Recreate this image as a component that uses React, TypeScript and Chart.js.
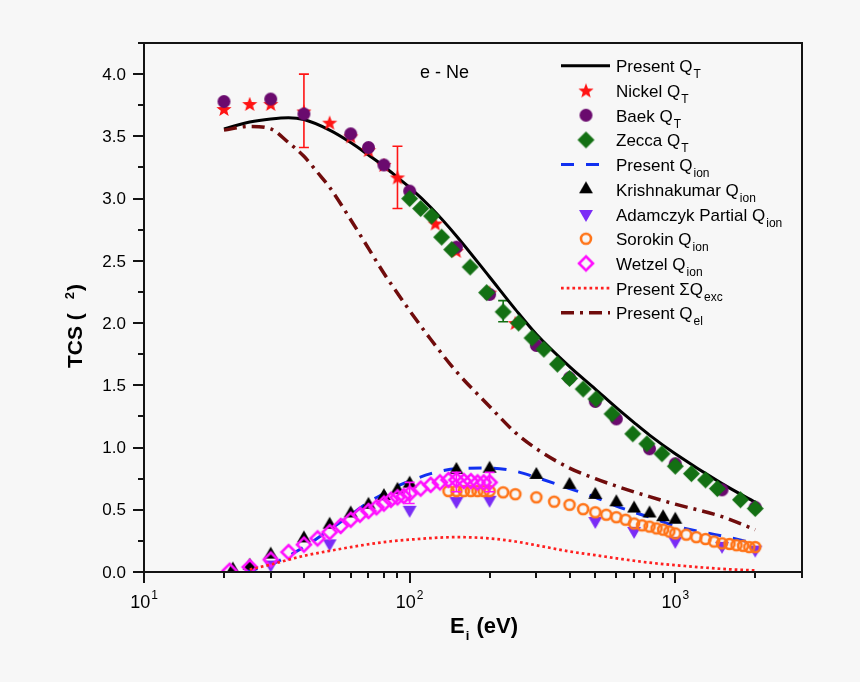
import { useEffect, useRef } from "react";
import { Chart, registerables } from "chart.js";

Chart.register(...registerables);

// ---------------- data (energy in eV, cross section in Å²) ----------------
const presentQtE = [20, 25, 30, 35, 40, 50, 60, 70, 80, 90, 100, 120, 150, 200, 250, 300, 400, 500, 600, 700, 800, 1000, 1500, 2000];
const presentQtV = [3.56, 3.615, 3.64, 3.65, 3.635, 3.55, 3.45, 3.35, 3.26, 3.17, 3.09, 2.93, 2.7, 2.37, 2.11, 1.91, 1.65, 1.47, 1.32, 1.2, 1.1, 0.95, 0.71, 0.56];

const nickelE = [20, 25, 30, 40, 50, 60, 70, 80, 90, 125, 150, 200, 250];
const nickelV = [3.72, 3.76, 3.76, 3.70, 3.61, 3.50, 3.39, 3.27, 3.17, 2.80, 2.58, 2.245, 2.0];

const baekE = [20, 30, 40, 60, 70, 80, 100, 150, 200, 300, 400, 500, 600, 800, 1000, 1500, 2000];
const baekV = [3.78, 3.80, 3.68, 3.52, 3.41, 3.27, 3.06, 2.61, 2.23, 1.82, 1.56, 1.37, 1.23, 0.99, 0.87, 0.66, 0.52];

const zeccaE = [100, 110, 121, 132, 144, 169, 195, 225, 257, 289, 320, 360, 400, 450, 503, 578, 692, 782, 891, 1000, 1150, 1300, 1440, 1760, 2000];
const zeccaV = [3.0, 2.92, 2.86, 2.69, 2.59, 2.45, 2.245, 2.09, 2.0, 1.88, 1.79, 1.67, 1.555, 1.47, 1.39, 1.27, 1.11, 1.03, 0.95, 0.85, 0.79, 0.74, 0.67, 0.58, 0.51];

const presentQionE = [24, 25, 30, 35, 40, 50, 60, 70, 80, 90, 100, 120, 150, 200, 250, 300, 400, 500, 600, 700, 800, 1000, 1500, 2000];
const presentQionV = [0.0, 0.01, 0.06, 0.13, 0.2, 0.34, 0.46, 0.56, 0.63, 0.69, 0.73, 0.79, 0.83, 0.835, 0.81, 0.76, 0.67, 0.6, 0.53, 0.48, 0.44, 0.37, 0.29, 0.23];

const krishnakumarE = [21.6, 25, 30, 40, 50, 60, 70, 80, 90, 100, 150, 200, 300, 400, 500, 600, 700, 800, 900, 1000];
const krishnakumarV = [0.02, 0.05, 0.14, 0.27, 0.38, 0.47, 0.54, 0.61, 0.66, 0.71, 0.82, 0.83, 0.78, 0.7, 0.62, 0.56, 0.51, 0.47, 0.44, 0.42];

const adamczykE = [30, 50, 100, 150, 200, 500, 700, 1000, 1500, 2000];
const adamczykV = [0.06, 0.23, 0.5, 0.57, 0.58, 0.41, 0.33, 0.25, 0.21, 0.18];

const sorokinE = [140, 150, 160, 170, 180, 190, 200, 225, 250, 300, 350, 400, 450, 500, 550, 600, 650, 700, 750, 800, 850, 900, 950, 1000, 1100, 1200, 1300, 1400, 1500, 1600, 1700, 1800, 1900, 2000];
const sorokinV = [0.65, 0.65, 0.65, 0.65, 0.65, 0.65, 0.65, 0.64, 0.625, 0.6, 0.565, 0.54, 0.505, 0.48, 0.46, 0.44, 0.42, 0.39, 0.375, 0.365, 0.35, 0.34, 0.325, 0.31, 0.3, 0.28, 0.265, 0.245, 0.23, 0.225, 0.215, 0.21, 0.2, 0.2];

const wetzelE = [21, 25, 30, 35, 40, 45, 50, 55, 60, 65, 70, 75, 80, 85, 90, 95, 100, 110, 120, 130, 140, 150, 160, 170, 180, 190, 200];
const wetzelV = [0.01, 0.04, 0.1, 0.16, 0.22, 0.27, 0.32, 0.37, 0.42, 0.46, 0.49, 0.52, 0.55, 0.58, 0.6, 0.61, 0.63, 0.67, 0.7, 0.72, 0.74, 0.74, 0.73, 0.73, 0.72, 0.72, 0.72];

const excE = [25, 30, 40, 50, 60, 80, 100, 150, 200, 250, 300, 400, 500, 600, 800, 1000, 1500, 2000];
const excV = [0.02, 0.06, 0.13, 0.17, 0.2, 0.24, 0.26, 0.28, 0.27, 0.245, 0.215, 0.165, 0.135, 0.11, 0.075, 0.055, 0.025, 0.012];

const elasticE = [20, 25, 30, 35, 40, 45, 50, 60, 70, 80, 90, 100, 120, 150, 200, 250, 300, 400, 500, 600, 800, 1000, 1500, 2000];
const elasticV = [3.55, 3.58, 3.56, 3.45, 3.34, 3.21, 3.09, 2.83, 2.6, 2.4, 2.24, 2.1, 1.87, 1.61, 1.33, 1.12, 0.99, 0.835, 0.75, 0.69, 0.605, 0.545, 0.445, 0.34];

// error bars
const nickelErrE = [40, 90];
const nickelErrLo = [3.41, 2.92];
const nickelErrHi = [4.0, 3.42];
const zeccaErrE = [225];
const zeccaErrLo = [2.01];
const zeccaErrHi = [2.18];
const wetzelErrE = [100, 150, 200];
const wetzelErrLo = [0.55, 0.645, 0.645];
const wetzelErrHi = [0.72, 0.8, 0.8];

// axes
const yMajorTicks = [0, 0.5, 1.0, 1.5, 2.0, 2.5, 3.0, 3.5, 4.0];
const yMinorTicks = [0.25, 0.75, 1.25, 1.75, 2.25, 2.75, 3.25, 3.75, 4.25];
const xMajorTicks = [10, 100, 1000];
const xMajorExponents = ["1", "2", "3"];

// ---------------- styles ----------------
const BG = "#f7f7f7";
const AXIS = "#141414";
const FONT = '"Liberation Sans", Arial, Helvetica, sans-serif';

const C_QT = "#000000";
const C_NICKEL = "#ff1414";
const C_BAEK = "#6a0a6e";
const C_ZECCA = "#137013";
const C_ION = "#1030f0";
const C_KRISH = "#000000";
const C_ADAM = "#7a2cf6";
const C_SOROKIN = "#ff7418";
const C_WETZEL = "#ff10ff";
const C_EXC = "#ff2020";
const C_EL = "#700c0c";

const DASH_ION = [13, 12];
const DASH_EXC = [2.7, 3];
const DASH_EL = [13, 6, 3, 6];

type Kind = "star" | "circle" | "diamond" | "tri" | "triDown";

function markerCanvas(kind: Kind, r: number, fill: string | null, stroke: string | null, lw = 0) {
  const pad = Math.ceil(lw) + 2;
  const size = Math.ceil(2 * r + 2 * pad);
  const c = document.createElement("canvas");
  c.width = size;
  c.height = size;
  const g = c.getContext("2d")!;
  const cx = size / 2;
  const cy = size / 2;
  g.beginPath();
  if (kind === "circle") {
    g.arc(cx, cy, r, 0, Math.PI * 2);
  } else if (kind === "diamond") {
    g.moveTo(cx, cy - r);
    g.lineTo(cx + r, cy);
    g.lineTo(cx, cy + r);
    g.lineTo(cx - r, cy);
    g.closePath();
  } else if (kind === "tri" || kind === "triDown") {
    const s = kind === "tri" ? 1 : -1;
    for (let k = 0; k < 3; k++) {
      const a = (k * 2 * Math.PI) / 3;
      const px = cx + Math.sin(a) * r;
      const py = cy - s * Math.cos(a) * r;
      if (k === 0) g.moveTo(px, py);
      else g.lineTo(px, py);
    }
    g.closePath();
  } else {
    const inner = r * 0.42;
    for (let k = 0; k < 10; k++) {
      const rad = k % 2 === 0 ? r : inner;
      const a = (k * Math.PI) / 5;
      const px = cx + Math.sin(a) * rad;
      const py = cy - Math.cos(a) * rad + r * 0.08;
      if (k === 0) g.moveTo(px, py);
      else g.lineTo(px, py);
    }
    g.closePath();
  }
  if (fill) {
    g.fillStyle = fill;
    g.fill();
  }
  if (stroke) {
    g.strokeStyle = stroke;
    g.lineWidth = lw;
    g.stroke();
  }
  return c;
}

const pts = (xs: number[], ys: number[]) => xs.map((x, i) => ({ x, y: ys[i] }));

export default function App() {
  const ref = useRef<HTMLCanvasElement | null>(null);

  useEffect(() => {
    document.body.style.margin = "0";
    document.body.style.background = BG;

    const mStar = markerCanvas("star", 8, C_NICKEL, null);
    const mBaek = markerCanvas("circle", 6.5, C_BAEK, null);
    const mZecca = markerCanvas("diamond", 8.5, C_ZECCA, null);
    const mKrish = markerCanvas("tri", 8, C_KRISH, null);
    const mAdam = markerCanvas("triDown", 8, C_ADAM, null);
    const mSorokin = markerCanvas("circle", 5, null, C_SOROKIN, 2.6);
    const mWetzel = markerCanvas("diamond", 7, null, C_WETZEL, 2.6);

    const lineSet = (label: string, xs: number[], ys: number[], color: string, width: number, dash: number[], order: number) => ({
      label,
      data: pts(xs, ys),
      showLine: true,
      borderColor: color,
      backgroundColor: color,
      borderWidth: width,
      borderDash: dash,
      borderCapStyle: "butt" as const,
      cubicInterpolationMode: "monotone" as const,
      pointRadius: 0,
      order,
    });
    const markSet = (label: string, xs: number[], ys: number[], img: HTMLCanvasElement, order: number) => ({
      label,
      data: pts(xs, ys),
      showLine: false,
      pointStyle: img,
      pointRadius: 6,
      order,
    });

    const datasets: any[] = [
      lineSet("Present QT", presentQtE, presentQtV, C_QT, 3, [], 11),
      markSet("Nickel QT", nickelE, nickelV, mStar, 10),
      markSet("Baek QT", baekE, baekV, mBaek, 9),
      markSet("Zecca QT", zeccaE, zeccaV, mZecca, 8),
      lineSet("Present Qion", presentQionE, presentQionV, C_ION, 3, DASH_ION, 7),
      markSet("Krishnakumar Qion", krishnakumarE, krishnakumarV, mKrish, 6),
      markSet("Adamczyk Partial Qion", adamczykE, adamczykV, mAdam, 5),
      markSet("Sorokin Qion", sorokinE, sorokinV, mSorokin, 4),
      markSet("Wetzel Qion", wetzelE, wetzelV, mWetzel, 3),
      lineSet("Present ΣQexc", excE, excV, C_EXC, 2.7, DASH_EXC, 2),
      lineSet("Present Qel", elasticE, elasticV, C_EL, 3.5, DASH_EL, 1),
    ];

    type Row = { main: string; sub: string; line?: { color: string; width: number; dash: number[] }; mark?: HTMLCanvasElement };
    const legendRows: Row[] = [
      { main: "Present Q", sub: "T", line: { color: C_QT, width: 3, dash: [] } },
      { main: "Nickel Q", sub: "T", mark: mStar },
      { main: "Baek Q", sub: "T", mark: mBaek },
      { main: "Zecca Q", sub: "T", mark: mZecca },
      { main: "Present Q", sub: "ion", line: { color: C_ION, width: 3, dash: DASH_ION } },
      { main: "Krishnakumar Q", sub: "ion", mark: mKrish },
      { main: "Adamczyk Partial Q", sub: "ion", mark: mAdam },
      { main: "Sorokin Q", sub: "ion", mark: mSorokin },
      { main: "Wetzel Q", sub: "ion", mark: mWetzel },
      { main: "Present ΣQ", sub: "exc", line: { color: C_EXC, width: 2.7, dash: DASH_EXC } },
      { main: "Present Q", sub: "el", line: { color: C_EL, width: 3.5, dash: DASH_EL } },
    ];

    const drawBars = (chart: any, es: number[], lo: number[], hi: number[], color: string) => {
      const { ctx, scales } = chart;
      ctx.save();
      ctx.strokeStyle = color;
      ctx.lineWidth = 1.6;
      ctx.setLineDash([]);
      es.forEach((e, i) => {
        const x = scales.x.getPixelForValue(e);
        const y1 = scales.y.getPixelForValue(lo[i]);
        const y2 = scales.y.getPixelForValue(hi[i]);
        ctx.beginPath();
        ctx.moveTo(x, y1);
        ctx.lineTo(x, y2);
        ctx.moveTo(x - 5, y1);
        ctx.lineTo(x + 5, y1);
        ctx.moveTo(x - 5, y2);
        ctx.lineTo(x + 5, y2);
        ctx.stroke();
      });
      ctx.restore();
    };

    const decor = {
      id: "decor",
      beforeDraw(chart: any) {
        const { ctx, width, height } = chart;
        ctx.save();
        ctx.fillStyle = BG;
        ctx.fillRect(0, 0, width, height);
        ctx.restore();
      },
      beforeDatasetsDraw(chart: any) {
        drawBars(chart, nickelErrE, nickelErrLo, nickelErrHi, C_NICKEL);
        drawBars(chart, zeccaErrE, zeccaErrLo, zeccaErrHi, C_ZECCA);
      },
      afterDatasetsDraw(chart: any) {
        drawBars(chart, wetzelErrE, wetzelErrLo, wetzelErrHi, C_WETZEL);
      },
      afterDraw(chart: any) {
        const { ctx, chartArea: a, scales } = chart;
        const xs = scales.x;
        const ys = scales.y;
        ctx.save();
        ctx.setLineDash([]);

        // frame
        ctx.strokeStyle = AXIS;
        ctx.lineWidth = 2;
        ctx.strokeRect(a.left, a.top, a.right - a.left, a.bottom - a.top);

        // y ticks
        ctx.lineWidth = 2;
        ctx.beginPath();
        yMajorTicks.forEach((v) => {
          const y = Math.round(ys.getPixelForValue(v));
          ctx.moveTo(a.left - 11, y);
          ctx.lineTo(a.left, y);
        });
        yMinorTicks.forEach((v) => {
          const y = Math.round(ys.getPixelForValue(v));
          ctx.moveTo(a.left - 6, y);
          ctx.lineTo(a.left, y);
        });
        // x ticks
        xMajorTicks.forEach((v) => {
          const x = Math.round(xs.getPixelForValue(v));
          ctx.moveTo(x, a.bottom);
          ctx.lineTo(x, a.bottom + 11);
        });
        for (let d = 10; d <= 1000; d *= 10) {
          for (let k = 2; k <= 9; k++) {
            const v = d * k;
            if (v > 3000) break;
            const x = Math.round(xs.getPixelForValue(v));
            ctx.moveTo(x, a.bottom);
            ctx.lineTo(x, a.bottom + 6);
          }
        }
        ctx.stroke();

        // y tick labels
        ctx.fillStyle = "#000";
        ctx.font = `17px ${FONT}`;
        ctx.textAlign = "right";
        ctx.textBaseline = "middle";
        yMajorTicks.forEach((v) => {
          ctx.fillText(v.toFixed(1), a.left - 18, ys.getPixelForValue(v) + 1);
        });

        // x tick labels (powers of ten)
        ctx.textBaseline = "alphabetic";
        ctx.textAlign = "left";
        xMajorTicks.forEach((v, i) => {
          const x = xs.getPixelForValue(v);
          ctx.font = `18px ${FONT}`;
          const w1 = ctx.measureText("10").width;
          ctx.font = `12px ${FONT}`;
          const w2 = ctx.measureText(xMajorExponents[i]).width;
          const x0 = x - (w1 + w2 + 1) / 2;
          ctx.font = `18px ${FONT}`;
          ctx.fillText("10", x0, 608);
          ctx.font = `12px ${FONT}`;
          ctx.fillText(xMajorExponents[i], x0 + w1 + 1, 599);
        });

        // x axis title
        ctx.font = `bold 22px ${FONT}`;
        let tx = 450;
        ctx.fillText("E", tx, 633);
        tx += ctx.measureText("E").width + 1;
        ctx.font = `bold 13px ${FONT}`;
        ctx.fillText("i", tx, 640);
        tx += ctx.measureText("i").width + 1;
        ctx.font = `bold 22px ${FONT}`;
        ctx.fillText(" (eV)", tx, 633);

        // y axis title
        ctx.save();
        ctx.translate(82, 368);
        ctx.rotate(-Math.PI / 2);
        ctx.font = `bold 21px ${FONT}`;
        ctx.fillText("TCS (", 0, 0);
        let ty = ctx.measureText("TCS (").width + 14;
        ctx.font = `bold 13px ${FONT}`;
        ctx.fillText("2", ty, -8);
        ty += ctx.measureText("2").width + 1;
        ctx.font = `bold 21px ${FONT}`;
        ctx.fillText(")", ty, 0);
        ctx.restore();

        // annotation
        ctx.font = `18px ${FONT}`;
        ctx.fillText("e - Ne", 420, 78);

        // legend
        const LX0 = 561;
        const LX1 = 610;
        const MX = 586;
        const TX = 616;
        const BY0 = 72.3;
        const DY = 24.7;
        legendRows.forEach((row, i) => {
          const by = BY0 + i * DY;
          const cy = by - 6.5;
          if (row.line) {
            ctx.save();
            ctx.strokeStyle = row.line.color;
            ctx.lineWidth = row.line.width;
            ctx.setLineDash(row.line.dash);
            ctx.lineCap = "butt";
            ctx.beginPath();
            ctx.moveTo(LX0, cy);
            ctx.lineTo(LX1, cy);
            ctx.stroke();
            ctx.restore();
          }
          if (row.mark) {
            ctx.drawImage(row.mark, MX - row.mark.width / 2, cy - row.mark.height / 2);
          }
          ctx.fillStyle = "#000";
          ctx.font = `17px ${FONT}`;
          ctx.fillText(row.main, TX, by);
          const w = ctx.measureText(row.main).width;
          ctx.font = `12px ${FONT}`;
          ctx.fillText(row.sub, TX + w + 1, by + 6);
        });

        ctx.restore();
      },
    };

    const hiddenAxis = {
      ticks: { display: false },
      grid: { display: false },
      border: { display: false },
      title: { display: false },
    };

    const chart = new Chart(ref.current!, {
      type: "scatter",
      data: { datasets },
      options: {
        animation: false,
        responsive: false,
        devicePixelRatio: 1,
        layout: { padding: { left: 144, top: 43, right: 58, bottom: 110 } },
        plugins: { legend: { display: false }, tooltip: { enabled: false } },
        scales: {
          x: {
            type: "logarithmic",
            min: 10,
            max: 3000,
            ...hiddenAxis,
            afterFit: (s: any) => {
              s.height = 0;
            },
          },
          y: {
            type: "linear",
            min: 0,
            max: 4.25,
            ...hiddenAxis,
            afterFit: (s: any) => {
              s.width = 0;
            },
          },
        },
      } as any,
      plugins: [decor],
    });
    return () => chart.destroy();
  }, []);

  return (
    <div style={{ width: 860, height: 682 }}>
      <canvas ref={ref} width={860} height={682} style={{ display: "block", width: 860, height: 682 }} />
    </div>
  );
}
